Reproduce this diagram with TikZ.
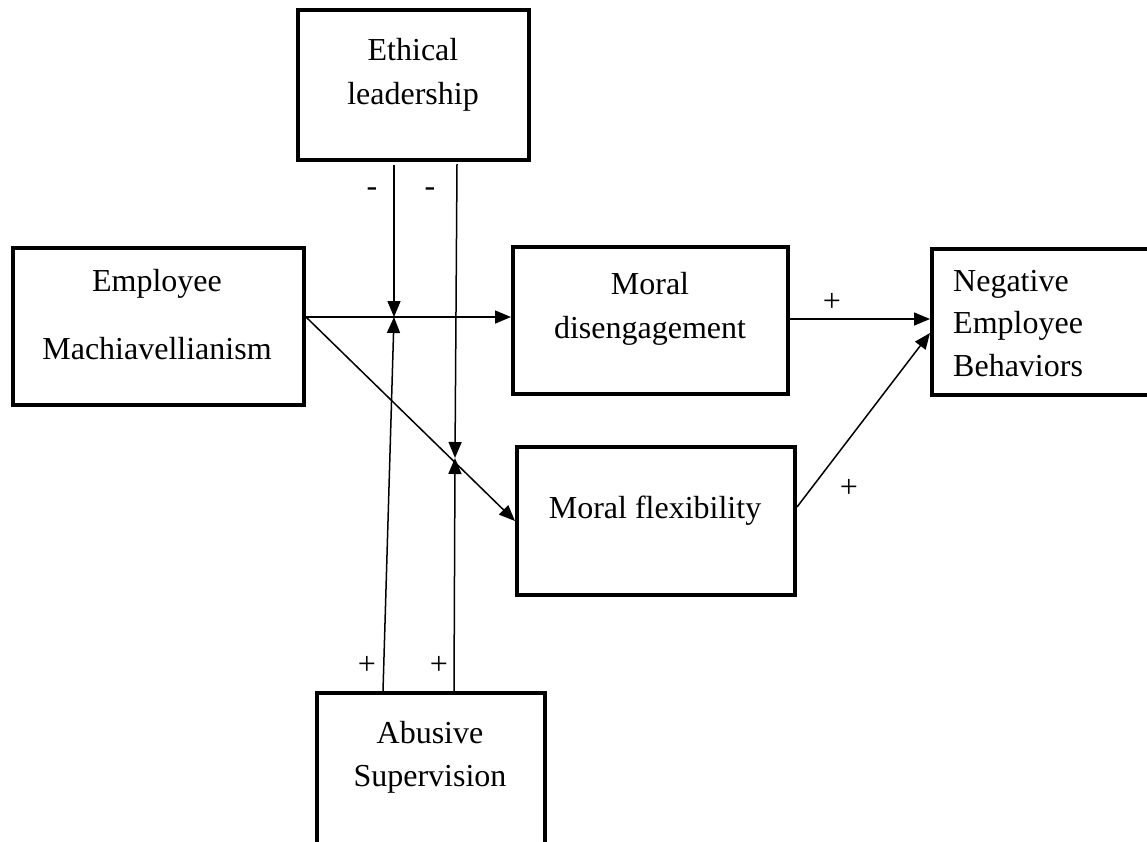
\documentclass[tikz,border=0pt]{standalone}
\usepackage{fontspec}
\setmainfont{Liberation Serif}
\usetikzlibrary{arrows.meta}
\tikzset{
  box/.style={draw, line width=4pt, rectangle, inner sep=0pt},
  lbl/.style={inner sep=0pt, anchor=base, font=\fontsize{32}{40}\selectfont},
  sgn/.style={inner sep=0pt, anchor=center, font=\fontsize{32}{40}\selectfont},
  conn/.style={line width=1.5pt, -{Triangle[length=16pt,width=13pt]}},
  plain/.style={line width=1.5pt}
}
\begin{document}
\begin{tikzpicture}[x=1pt,y=-1pt]
\useasboundingbox (0,0) rectangle (1147,841);
\clip (0,0) rectangle (1147,841);
% boxes
\node[box, minimum width=231pt, minimum height=150pt] (eth) at (413.5,85) {};
\node[box, minimum width=291pt, minimum height=157pt] (emp) at (158.5,326.5) {};
\node[box, minimum width=275pt, minimum height=147pt] (md) at (650.5,320.5) {};
\node[box, minimum width=278pt, minimum height=148pt] (mf) at (656,521) {};
\node[box, minimum width=238pt, minimum height=146pt] (neg) at (1051,322) {};
\node[box, minimum width=228pt, minimum height=177pt] (ab) at (431,781.5) {};
% texts
\node[lbl] (eth1) at (413,60) {Ethical};
\node[lbl] (eth2) at (413,104) {leadership};
\node[lbl] (emp1) at (157,291) {Employee};
\node[lbl] (emp2) at (157,359) {Machiavellianism};
\node[lbl] (md1) at (650,294) {Moral};
\node[lbl] (md2) at (650,338) {disengagement};
\node[lbl] (mf1) at (655,518) {Moral flexibility};
\node[lbl, anchor=base west] (neg1) at (953,291) {Negative};
\node[lbl, anchor=base west] (neg2) at (953,333) {Employee};
\node[lbl, anchor=base west] (neg3) at (953,376) {Behaviors};
\node[lbl] (ab1) at (430,743) {Abusive};
\node[lbl] (ab2) at (430,786) {Supervision};
% junction coordinates
\coordinate (j1) at (394,317);
\coordinate (j2) at (455,458);
\coordinate (e1) at (394,165);
\coordinate (e2) at (457,164);
\coordinate (a1) at (383,691);
\coordinate (a2) at (454,691);
% connectors
\draw[conn] (emp.east |- j1) -- (md.west |- j1);
\draw[conn] (emp.east |- j1) -- (mf.west);
\draw[conn] (e1) -- (j1);
\draw[conn] (e2) -- (j2);
\draw[conn] (a1) -- (j1);
\draw[conn] (a2) -- (j2);
\draw[conn] (md.east |- 0,319) -- (neg.west |- 0,319);
\draw[conn] ([yshift=14pt]mf.east) -- ([yshift=-11pt]neg.west);
% signs
\node[sgn] (s1) at (372,192) {-};
\node[sgn] (s2) at (430,192) {-};
\node[sgn] (s3) at (367,665) {+};
\node[sgn] (s4) at (439,665) {+};
\node[sgn] (s5) at (832,302) {+};
\node[sgn] (s6) at (849,488) {+};
\end{tikzpicture}
\end{document}
